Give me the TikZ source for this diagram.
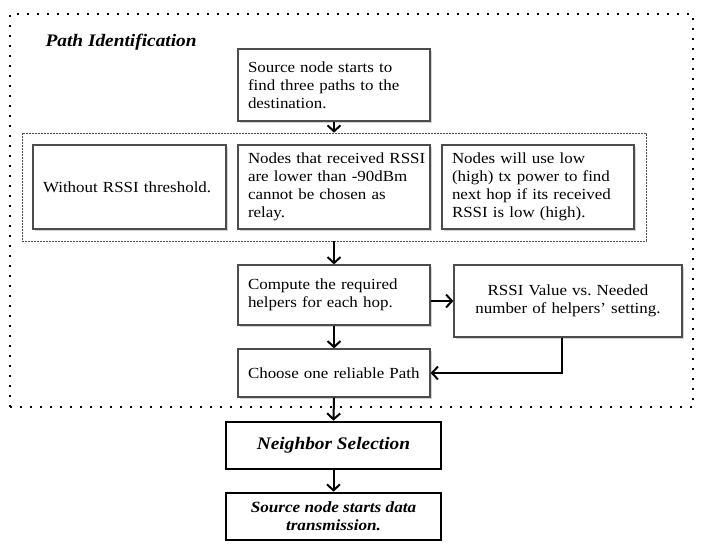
\documentclass[tikz,border=0pt]{standalone}
\usepackage{fontspec}
\setmainfont{Liberation Serif}[FakeStretch=1.1]
\usetikzlibrary{arrows.meta,shadows}
\frenchspacing
\hbadness=10000 \hfuzz=100pt
\begin{document}
\begin{tikzpicture}[x=1pt,y=-1pt,
  txt/.style={font=\fontsize{15.4}{18}\selectfont},
  box/.style={txt, draw=black!70, line width=1.2pt, fill=white,
    drop shadow={shadow xshift=1.5pt,shadow yshift=-1.5pt,opacity=0.35},
    inner xsep=10pt, inner ysep=0pt, align=left, text width=172pt},
  bigbox/.style={draw=black, line width=2.6pt, fill=white, inner sep=0pt,
    align=center, font=\bfseries\itshape\fontsize{17.6}{18}\selectfont},
  arr/.style={draw=black, line width=2pt, -{Straight Barb[length=6pt,width=13pt]}},
]
\useasboundingbox (0,0) rectangle (707,554);
% outer dotted frame
\node[draw=black, line width=2.2pt, dash pattern=on 2.2pt off 7.8pt,
      minimum width=683pt, minimum height=393pt, inner sep=0pt] (outer) at (351.5,210.5) {};
\node[anchor=west, font=\bfseries\itshape\fontsize{17.6}{20}\selectfont] (title) at (42,42) {Path Identification};
% dashed group
\node[draw=black!70, line width=0.6pt, dash pattern=on 2pt off 1pt,
      minimum width=624pt, minimum height=108pt, inner sep=0pt] (group) at (334,187) {};
\node[box, minimum height=72pt] (src) at (334,85)
  {\mbox{Source node starts to}\\\mbox{find three paths to the}\\destination.};
\node[box, text width=173pt, minimum height=84pt] (b1) at (129.5,187)
  {\mbox{Without RSSI threshold.}};
\node[box, minimum height=84pt] (b2) at (334,187)
  {\mbox{Nodes that received RSSI}\\\mbox{are lower than -90dBm}\\\mbox{cannot be chosen as}\\relay.};
\node[box, minimum height=84pt] (b3) at (538,187)
  {\mbox{Nodes will use low}\\\mbox{(high) tx power to find}\\\mbox{next hop if its received}\\\mbox{RSSI is low (high).}};
\node[box, minimum height=60pt] (comp) at (334,295)
  {\mbox{Compute the required}\\\mbox{helpers for each hop.}};
\node[box, text width=208pt, minimum height=72pt, align=center] (rssi) at (568,301)
  {RSSI Value vs. Needed\\number of helpers’ setting.};
\node[box, minimum height=48pt] (choose) at (334,373)
  {\mbox{Choose one reliable Path}};
\node[bigbox, minimum width=215pt, minimum height=47pt] (neigh) at (333.5,445.5)
  {Neighbor Selection};
\node[bigbox, minimum width=215pt, minimum height=47pt,
      font=\bfseries\itshape\fontsize{15.6}{18}\selectfont] (final) at (333.5,516.5)
  {Source node starts data\\transmission.};
% connectors
\draw[arr] (src.south) -- (group.north);
\draw[arr] (group.south) -- (comp.north);
\draw[arr] (rssi.west -| comp.east) -- (rssi.west);
\draw[arr] (comp.south) -- (choose.north);
\draw[arr] ([xshift=-6pt]rssi.south) |- (choose.east);
\draw[arr] (choose.south) -- (neigh.north);
\draw[arr] (neigh.south) -- (final.north);
\end{tikzpicture}
\end{document}
